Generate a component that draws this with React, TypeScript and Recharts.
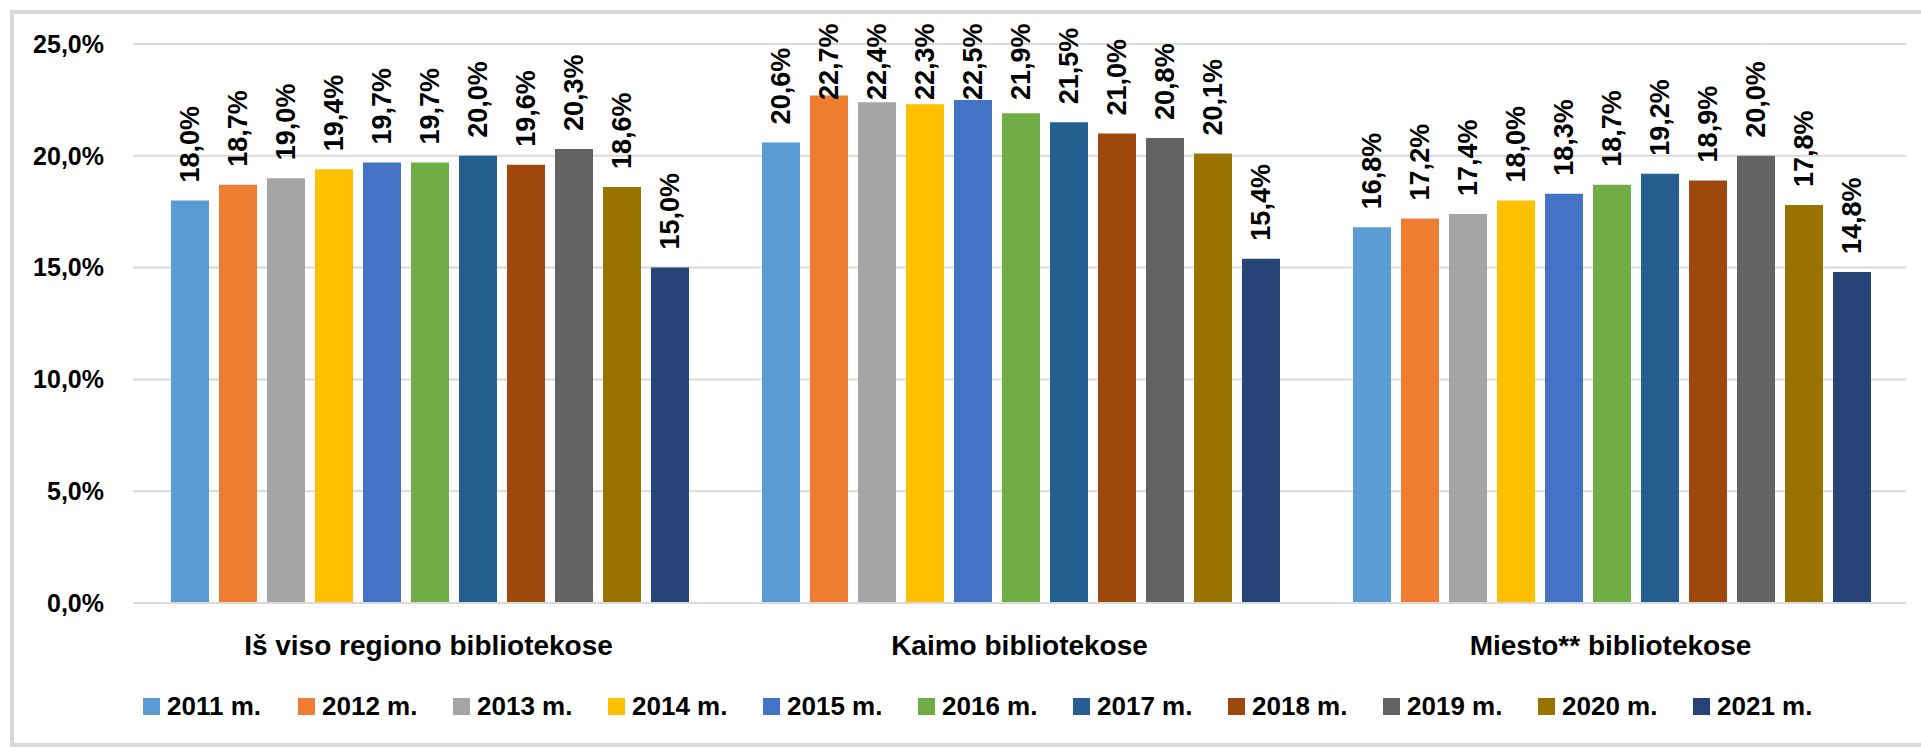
import React from 'react';
import { BarChart, Bar, XAxis, YAxis, CartesianGrid, Legend, LabelList } from 'recharts';

const categories = ['Iš viso regiono bibliotekose', 'Kaimo bibliotekose', 'Miesto** bibliotekose'];
const years = ['2011 m.', '2012 m.', '2013 m.', '2014 m.', '2015 m.', '2016 m.', '2017 m.', '2018 m.', '2019 m.', '2020 m.', '2021 m.'];
const colors = ['#5b9bd5', '#ed7d31', '#a5a5a5', '#ffc000', '#4472c4', '#70ad47', '#255e91', '#9e480e', '#636363', '#997300', '#264478'];

// one list per year: [Iš viso, Kaimo, Miesto]
const v2011 = [18.0, 20.6, 16.8];
const v2012 = [18.7, 22.7, 17.2];
const v2013 = [19.0, 22.4, 17.4];
const v2014 = [19.4, 22.3, 18.0];
const v2015 = [19.7, 22.5, 18.3];
const v2016 = [19.7, 21.9, 18.7];
const v2017 = [20.0, 21.5, 19.2];
const v2018 = [19.6, 21.0, 18.9];
const v2019 = [20.3, 20.8, 20.0];
const v2020 = [18.6, 20.1, 17.8];
const v2021 = [15.0, 15.4, 14.8];
const yTicks = [0, 5, 10, 15, 20, 25];

const series = [v2011, v2012, v2013, v2014, v2015, v2016, v2017, v2018, v2019, v2020, v2021];

const data = categories.map((name, i) => {
  const row: Record<string, string | number> = { name };
  years.forEach((y, k) => {
    row[y] = series[k][i];
  });
  return row;
});

const FONT = '"Liberation Sans", Arial, sans-serif';
const pct = (v: number) => v.toFixed(1).replace('.', ',') + '%';

// Excel keeps the rotated labels inside the chart, so the tall ones get pushed down
const LABEL_MIN_BOTTOM = 100;

function RotatedLabel(props: any) {
  const { x, y, width, value } = props;
  const cx = Number(x) + Number(width) / 2;
  const by = Math.max(Number(y) - 18, LABEL_MIN_BOTTOM);
  return (
    <text
      x={cx}
      y={by}
      transform={`rotate(-90, ${cx}, ${by})`}
      textAnchor="start"
      dominantBaseline="central"
      fontFamily={FONT}
      fontWeight="bold"
      fontSize={27}
      fill="#000"
    >
      {pct(Number(value))}
    </text>
  );
}

function LegendRow({ payload }: any) {
  return (
    <div style={{ display: 'flex', fontFamily: FONT, fontWeight: 'bold', fontSize: 26, color: '#000' }}>
      {(payload || []).map((p: any) => (
        <div key={p.value} style={{ width: 155, display: 'flex', alignItems: 'center' }}>
          <span style={{ width: 17, height: 17, background: p.color, marginRight: 7, flex: 'none' }} />
          <span>{p.value}</span>
        </div>
      ))}
    </div>
  );
}

export default function App() {
  return (
    <div style={{ position: 'absolute', left: 0, top: 0, width: 1921, height: 747, overflow: 'hidden', background: '#fff' }}>
      <div
        style={{
          position: 'absolute',
          left: 10,
          top: 10,
          width: 1930,
          height: 737,
          boxSizing: 'border-box',
          border: '4px solid #d9d9d9',
        }}
      />
      <div style={{ position: 'absolute', left: 0, top: 0 }}>
        <BarChart
          width={1921}
          height={747}
          data={data}
          margin={{ top: 44, right: 15, left: 0, bottom: 84 }}
          barGap={10}
          barCategoryGap={38}
        >
          <CartesianGrid vertical={false} stroke="#d9d9d9" strokeWidth={2} />
          <XAxis
            dataKey="name"
            tickLine={false}
            tickSize={0}
            tickMargin={32}
            height={60}
            axisLine={{ stroke: '#d9d9d9', strokeWidth: 2 }}
            tick={{ fontFamily: FONT, fontWeight: 'bold', fontSize: 28, fill: '#000' }}
          />
          <YAxis
            width={133}
            domain={[0, 25]}
            ticks={yTicks}
            axisLine={false}
            tickLine={false}
            tickSize={0}
            tickMargin={29}
            tickFormatter={(v: number) => pct(v)}
            tick={{ fontFamily: FONT, fontWeight: 'bold', fontSize: 25, fill: '#000' }}
          />
          <Legend
            layout="horizontal"
            verticalAlign="middle"
            content={<LegendRow />}
            wrapperStyle={{ top: 691, left: 143, width: 1720 }}
          />
          {years.map((y, k) => (
            <Bar key={y} dataKey={y} fill={colors[k]} isAnimationActive={false}>
              <LabelList dataKey={y} content={<RotatedLabel />} />
            </Bar>
          ))}
        </BarChart>
      </div>
    </div>
  );
}
